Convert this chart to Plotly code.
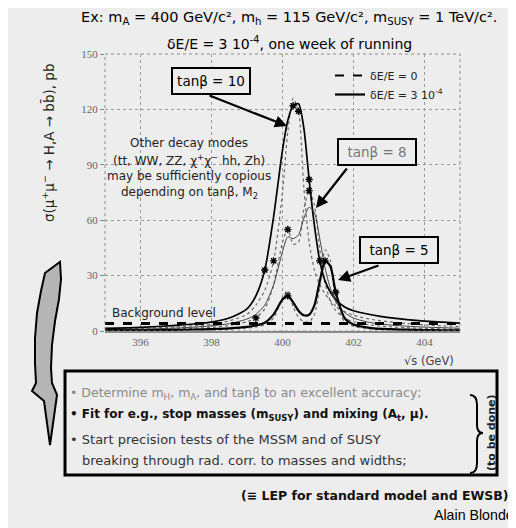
import plotly.graph_objects as go

# ---------------- data ----------------
sqrt_s = [395.0, 396.0, 397.0, 397.5, 398.0, 398.5, 399.0, 399.25, 399.5, 399.75,
          400.0, 400.15, 400.3, 400.45, 400.6, 400.75, 400.9, 401.05, 401.2, 401.35,
          401.5, 401.75, 402.0, 402.5, 403.0, 403.5, 404.0, 404.5, 405.0]
sigma_tb10_smeared = [1.5, 2.0, 3.0, 3.8, 4.8, 7.0, 12, 19, 33, 62,
                      98, 114, 122, 123, 110, 82, 57, 38, 27, 21,
                      17, 13, 11, 8.8, 7.2, 6.2, 5.4, 4.8, 4.3]
sigma_tb10_exact = [1.0, 1.4, 2.2, 2.8, 3.6, 5.5, 9, 14, 22, 38,
                    75, 108, 126, 119, 78, 48, 33, 25, 20, 16.5,
                    13.5, 10.5, 8.5, 6.3, 5.0, 4.0, 3.3, 2.8, 2.4]
sigma_tb8_smeared = [0.8, 1.0, 1.6, 2.1, 2.8, 4.0, 6.5, 9, 14, 25,
                     43, 51, 50, 52, 61, 67, 64, 50, 34, 23,
                     16, 10, 7, 4.5, 3.3, 2.6, 2.1, 1.8, 1.5]
sigma_tb8_exact = [0.5, 0.7, 1.1, 1.5, 2.0, 3.0, 5.0, 7, 12, 25,
                   48, 55, 47, 48, 66, 76, 68, 44, 26, 16,
                   11, 7, 5, 3.2, 2.3, 1.8, 1.4, 1.2, 1.0]
sigma_tb5_smeared = [0.3, 0.4, 0.6, 0.8, 1.0, 1.4, 2.2, 3.0, 4.5, 9,
                     17, 19, 15.5, 11, 8.5, 8.8, 14, 27, 38, 35,
                     21, 7, 3.5, 1.6, 1.0, 0.7, 0.5, 0.4, 0.35]
sigma_tb5_exact = [0.2, 0.3, 0.4, 0.5, 0.7, 1.0, 1.6, 2.2, 3.5, 7,
                   18, 22, 13, 7.5, 5, 5, 9, 24, 44, 38,
                   16, 5, 2.5, 1.1, 0.7, 0.5, 0.4, 0.3, 0.25]
background_x = [395.0, 405.0]
background_level = [4.0, 4.0]

star_idx_tb10 = [8, 12, 15, 17]
star_idx_tb10_exact = [9, 13]
star_idx_tb8 = [7, 11, 15]
star_idx_tb5 = [11, 18, 20]

x_ticks = [396, 398, 400, 402, 404]
y_ticks = [0, 30, 60, 90, 120, 150]

# ---------------- layout helpers ----------------
W, H = 516, 528
DY = -5  # global vertical shift of the whole page (px)
L, R, T, B = 97, 452, 51 + DY, 328 + DY
BG = "#ededed"
FONT = "DejaVu Sans"


def px(x):
    return (x - L) / (R - L)


def py(y):
    return (B - (y + DY)) / (B - T)


def path(points, close=True):
    s = "M " + " L ".join(f"{px(a):.4f},{py(b):.4f}" for a, b in points)
    return s + (" Z" if close else "")


fig = go.Figure()

exact_style = dict(color="#6a6a6a", width=1.2, dash="dot", shape="spline", smoothing=0.7)

for ys in (sigma_tb10_exact, sigma_tb8_exact, sigma_tb5_exact):
    fig.add_trace(go.Scatter(x=sqrt_s, y=ys, mode="lines", line=exact_style,
                             showlegend=False, hoverinfo="skip"))
for ys, w, c in ((sigma_tb10_smeared, 1.7, "black"), (sigma_tb8_smeared, 1.0, "#444444"),
                 (sigma_tb5_smeared, 2.2, "black")):
    fig.add_trace(go.Scatter(x=sqrt_s, y=ys, mode="lines",
                             line=dict(color=c, width=w, shape="spline", smoothing=0.7),
                             showlegend=False, hoverinfo="skip"))

for ys, idx in ((sigma_tb10_smeared, star_idx_tb10), (sigma_tb10_exact, star_idx_tb10_exact),
                (sigma_tb8_exact, star_idx_tb8), (sigma_tb5_smeared, star_idx_tb5)):
    fig.add_trace(go.Scatter(x=[sqrt_s[i] for i in idx], y=[ys[i] for i in idx],
                             mode="markers",
                             marker=dict(symbol="asterisk-open", size=6, color="black",
                                         line=dict(color="black", width=1.4)),
                             showlegend=False, hoverinfo="skip"))

# background level
fig.add_trace(go.Scatter(x=background_x, y=background_level, mode="lines",
                         line=dict(color="black", width=3, dash="dash"),
                         showlegend=False, hoverinfo="skip"))

# legend entries
fig.add_trace(go.Scatter(x=[None], y=[None], mode="lines", name="δE/E = 0",
                         line=dict(color="black", width=2.2, dash="dash")))
fig.add_trace(go.Scatter(x=[None], y=[None], mode="lines", name="δE/E = 3 10<sup>-4</sup>",
                         line=dict(color="black", width=2.2)))

ann = []


def text(x, y, s, size=12, color="black", xanchor="center", yanchor="middle", **kw):
    d = dict(x=px(x), y=py(y), xref="paper", yref="paper", text=s, showarrow=False,
             xanchor=xanchor, yanchor=yanchor,
             font=dict(family=kw.pop("family", FONT), size=size, color=color))
    d.update(kw)
    ann.append(d)


# titles
text(281, 15, "Ex: m<sub>A</sub> = 400 GeV/c², m<sub>h</sub> = 115 GeV/c², m<sub>SUSY</sub> = 1 TeV/c².", size=14.5)
text(281, 40, "δE/E = 3 10<sup>-4</sup>, one week of running", size=14)

# axis titles
text(40, 140, "σ(μ<sup>+</sup>μ<sup>−</sup> → H,A → bb̄), pb", size=13.5, textangle=-90, color="#222")
text(421, 358, "√s (GeV)", size=11.5, color="#444")

# boxed tanβ labels
for cx, cy, lab, col in ((203, 78, "tanβ = 10", "black"), (369, 149, "tanβ = 8", "#777"),
                         (391, 247, "tanβ = 5", "black")):
    d = dict(x=px(cx), y=py(cy), xref="paper", yref="paper", text=lab, showarrow=False,
             font=dict(family=FONT, size=13.5, color=col), bordercolor="black",
             borderwidth=2, borderpad=2, bgcolor=BG, width=72, height=20,
             xanchor="center", yanchor="middle")
    ann.append(d)

# arrows
for tip, tail in (((279, 123), (200, 92)), ((308, 205), (340, 164)), ((330, 277), (372, 262))):
    ann.append(dict(x=px(tip[0]), y=py(tip[1]), xref="paper", yref="paper", text="",
                    showarrow=True, ax=tail[0] - tip[0], ay=tail[1] - tip[1],
                    arrowhead=2, arrowsize=1.1, arrowwidth=2.2, arrowcolor="black"))

# other decay modes text
for yy, s in ((140, "Other decay modes"),
              (157, "(tt, WW, ZZ, χ<sup>+</sup>χ<sup>−</sup> hh, Zh)"),
              (173, "may be sufficiently copious"),
              (190, "depending on tanβ, M<sub>2</sub>")):
    text(181, yy, s, size=12, color="#222")

text(102, 310, "Background level", size=12, xanchor="left", color="#222")

# bottom box text
text(60, 390, "• Determine m<sub>H</sub>, m<sub>A</sub>, and tanβ to an excellent accuracy;",
     size=12.5, color="#8a8a8a", xanchor="left")
text(60, 412, "<b>• Fit for e.g., stop masses (m<sub>SUSY</sub>) and mixing (A<sub>t</sub>, μ).</b>",
     size=12, color="#111", xanchor="left")
text(60, 436, "• Start precision tests of the MSSM and of SUSY", size=13, color="#333",
     xanchor="left")
text(72, 457, "breaking through rad. corr. to masses and widths;", size=13, color="#333",
     xanchor="left")
text(483, 430, "<b>(to be done)</b>", size=11, textangle=-90, color="#222")
text(503, 492, "<b>(≡ LEP for standard model and EWSB)</b>", size=12.5, xanchor="right", color="#111")
text(424, 512, "Alain Blondel", size=14.2, xanchor="left", family="Liberation Sans")

shapes = []
# plot frame (dotted)
shapes.append(dict(type="rect", xref="paper", yref="paper", x0=0, y0=0, x1=1, y1=1,
                   line=dict(color="#8a8a8a", width=1, dash="dot")))
# bottom box
shapes.append(dict(type="rect", xref="paper", yref="paper", x0=px(57), y0=py(472),
                   x1=px(489), y1=py(368), line=dict(color="black", width=3)))
# brace
brace = (f"M {px(462):.4f},{py(392):.4f} Q {px(469):.4f},{py(392):.4f} {px(469):.4f},{py(402):.4f} "
         f"L {px(469):.4f},{py(422):.4f} Q {px(469):.4f},{py(430):.4f} {px(475):.4f},{py(430):.4f} "
         f"Q {px(469):.4f},{py(430):.4f} {px(469):.4f},{py(438):.4f} "
         f"L {px(469):.4f},{py(460):.4f} Q {px(469):.4f},{py(470):.4f} {px(462):.4f},{py(470):.4f}")
shapes.append(dict(type="path", xref="paper", yref="paper", path=brace,
                   line=dict(color="black", width=2)))
# curved arrow graphic
arrow_pts = [(37, 270), (52, 259), (53, 276), (51, 296), (47, 318), (44, 342), (43, 365),
             (44, 380), (49, 392), (42, 442), (36, 398), (24, 388), (28, 380), (27, 360),
             (27, 335), (29, 310), (33, 288)]
shapes.append(dict(type="path", xref="paper", yref="paper", path=path(arrow_pts),
                   fillcolor="#b5b5b5", line=dict(color="black", width=2)))

fig.update_layout(
    width=W, height=H,
    margin=dict(l=L, r=W - R, t=T, b=H - B, pad=0),
    paper_bgcolor=BG, plot_bgcolor=BG,
    annotations=ann, shapes=shapes,
    legend=dict(x=px(322), y=py(58), xanchor="left", yanchor="top",
                bgcolor="rgba(0,0,0,0)", font=dict(family=FONT, size=11, color="#222"),
                tracegroupgap=0, itemwidth=30),
    xaxis=dict(range=[395, 405], tickvals=x_ticks, ticktext=[str(v) for v in x_ticks],
               showgrid=True, gridcolor="#9a9a9a", griddash="dot", gridwidth=1,
               zeroline=False, showline=True, linecolor="#8a8a8a", linewidth=2,
               ticks="", tickfont=dict(family="Liberation Serif", size=11, color="#666")),
    yaxis=dict(range=[0, 150], tickvals=y_ticks, ticktext=[str(v) for v in y_ticks],
               showgrid=True, gridcolor="#9a9a9a", griddash="dot", gridwidth=1,
               zeroline=False, showline=False, ticks="outside", ticklen=4,
               tickcolor="#888", tickfont=dict(family="Liberation Serif", size=11, color="#666")),
)

fig.write_html("out.html")
